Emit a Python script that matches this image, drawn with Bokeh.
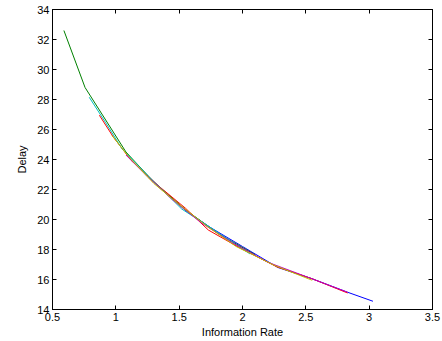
from bokeh.plotting import figure
from bokeh.models import LinearAxis, SingleIntervalTicker, Range1d, CustomJSTickFormatter
from bokeh.embed import file_html
from bokeh.resources import INLINE

# Data: six runs of Delay vs Information Rate
blue_x = [1.42, 1.55, 1.75, 2.0, 2.28, 2.55, 2.83, 3.03]
blue_y = [21.6, 20.6, 19.45, 18.2, 16.8, 16.05, 15.15, 14.55]
green_x = [0.59, 0.757, 0.93, 1.08, 1.3, 1.55, 1.8, 2.1]
green_y = [32.6, 28.8, 26.5, 24.5, 22.5, 20.65, 19.1, 17.65]
red_x = [0.87, 0.98, 1.12, 1.35, 1.55, 1.73, 1.98, 2.27, 2.55, 2.83]
red_y = [26.95, 25.5, 23.95, 22.15, 20.75, 19.3, 18.1, 16.85, 16.05, 15.1]
cyan_x = [0.79, 0.92, 1.05, 1.25, 1.52, 1.75, 2.06]
cyan_y = [28.15, 26.45, 24.7, 22.95, 20.7, 19.45, 17.7]
magenta_x = [1.08, 1.25, 1.45, 1.68, 1.92, 2.2, 2.5, 2.83]
magenta_y = [24.3, 22.85, 21.3, 19.75, 18.45, 17.15, 16.2, 15.15]
yellow_x = [0.97, 1.1, 1.3, 1.5, 1.72, 1.95, 2.25, 2.55]
yellow_y = [25.6, 24.2, 22.4, 21.0, 19.55, 18.2, 16.95, 15.95]

series = [
    (blue_x, blue_y, "#0000ff"),
    (green_x, green_y, "#008000"),
    (red_x, red_y, "#ff0000"),
    (cyan_x, cyan_y, "#00bfbf"),
    (magenta_x, magenta_y, "#bf00bf"),
    (yellow_x, yellow_y, "#bfbf00"),
]

FONT = "Liberation Sans"

p = figure(frame_width=380, frame_height=300,
           x_range=Range1d(0.5, 3.5), y_range=Range1d(14, 34),
           output_backend="svg", toolbar_location=None,
           x_axis_location=None, y_axis_location=None,
           min_border_left=0, min_border_right=0, min_border_top=0, min_border_bottom=0)
p.background_fill_color = "white"
p.border_fill_color = "white"
p.outline_line_color = "black"
p.outline_line_width = 1
p.xgrid.visible = False
p.ygrid.visible = False

for xs, ys, c in series:
    p.line(xs, ys, line_color=c, line_width=1)

def style(ax):
    ax.major_tick_in = 4
    ax.major_tick_out = 0
    ax.minor_tick_in = 0
    ax.minor_tick_out = 0
    ax.axis_line_color = "black"
    ax.major_tick_line_color = "black"
    ax.major_label_text_font = FONT
    ax.major_label_text_font_size = "11px"
    ax.major_label_text_color = "black"
    ax.major_label_standoff = 3
    ax.axis_label_text_font = FONT
    ax.axis_label_text_font_size = "11px"
    ax.axis_label_text_font_style = "normal"
    ax.axis_label_text_color = "black"
    ax.axis_label_standoff = 2

xb = LinearAxis(ticker=SingleIntervalTicker(interval=0.5), axis_label="Information Rate")
style(xb)
yl = LinearAxis(ticker=SingleIntervalTicker(interval=2), axis_label="Delay")
style(yl)
yl.axis_label_standoff = 6
blank = CustomJSTickFormatter(code="return ''")
xt = LinearAxis(ticker=SingleIntervalTicker(interval=0.5), formatter=blank)
style(xt)
xt.major_label_standoff = 0
yr = LinearAxis(ticker=SingleIntervalTicker(interval=2), formatter=blank)
style(yr)
yr.major_label_standoff = 0

p.add_layout(xb, "below")
p.add_layout(yl, "left")
p.add_layout(xt, "above")
p.add_layout(yr, "right")

p.min_border_left = 52
p.min_border_top = 9
p.min_border_right = 10
p.min_border_bottom = 32

open("out.html", "w").write(file_html(p, INLINE))
